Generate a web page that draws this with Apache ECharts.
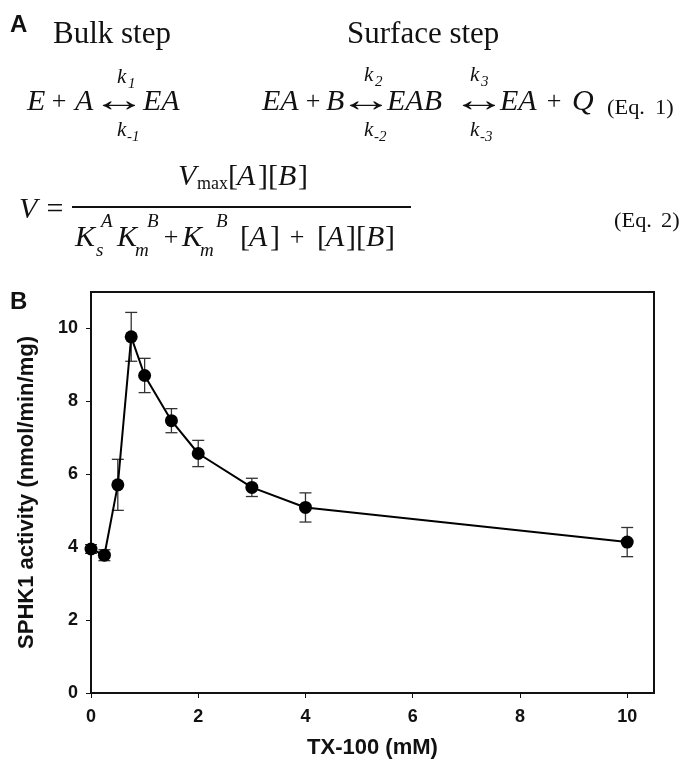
<!DOCTYPE html>
<html>
<head>
<meta charset="utf-8">
<script src="https://cdn.jsdelivr.net/npm/echarts@6/dist/echarts.min.js"></script>
<style>
  html, body { margin: 0; padding: 0; background: #fff; }
  #chart { width: 681px; height: 764px; }
</style>
</head>
<body>
<div id="chart"></div>
<script>
// TX-100 concentration (mM) and SPHK1 activity (nmol/min/mg) with error
const txConc   = [0, 0.25, 0.5, 0.75, 1, 1.5, 2, 3, 4, 10];
const activity = [3.95, 3.78, 5.71, 9.77, 8.71, 7.47, 6.57, 5.64, 5.09, 4.14];
const errs     = [0.12, 0.15, 0.70, 0.67, 0.47, 0.33, 0.36, 0.25, 0.40, 0.40];

const xTicks = [0, 2, 4, 6, 8, 10];
const yTicks = [0, 2, 4, 6, 8, 10];

const SERIF = '"Liberation Serif", "Times New Roman", serif';
const SANS = '"Liberation Sans", Arial, sans-serif';

// text piece placed by its baseline
function T(x, base, str, size, opt) {
  opt = opt || {};
  const cy = base - 0.3375 * size;
  return {
    type: 'text',
    x: x, y: cy,
    scaleX: opt.sx || 1,
    silent: true,
    style: {
      text: str,
      fontFamily: opt.family || SERIF,
      fontSize: size,
      fontStyle: opt.italic ? 'italic' : 'normal',
      fontWeight: opt.bold ? 'bold' : 'normal',
      fill: '#111',
      align: opt.align || 'left',
      verticalAlign: 'middle',
      textAlign: opt.align || 'left',
      textVerticalAlign: 'middle'
    }
  };
}
const I = { italic: true };
const C = { align: 'center' };
const ARROW = { align: 'center', sx: 1.6 };
const EQ = { sx: 1.12 };

const eqGraphics = [
  // panel letters
  T(10, 33, 'A', 24, { family: SANS, bold: true }),
  T(10, 310, 'B', 24, { family: SANS, bold: true }),
  // headings
  T(53, 45, 'Bulk step', 31),
  T(347, 45, 'Surface step', 31),

  // Eq. 1, bulk step
  T(27, 112, 'E', 30, I),
  T(59, 111, '+', 26, C),
  T(75, 112, 'A', 30, I),
  T(119, 114, '\u2194', 34, ARROW),
  T(143, 112, 'EA', 30, I),
  T(117, 85, 'k', 21, I),
  T(128, 89, '1', 15, I),
  T(117, 138, 'k', 21, I),
  T(127, 142, '-1', 15, I),

  // Eq. 1, surface step
  T(262, 112, 'EA', 30, I),
  T(313, 111, '+', 26, C),
  T(326, 112, 'B', 30, I),
  T(366, 114, '\u2194', 34, ARROW),
  T(387, 112, 'EAB', 30, I),
  T(479, 114, '\u2194', 34, ARROW),
  T(500, 112, 'EA', 30, I),
  T(554, 111, '+', 26, C),
  T(572, 112, 'Q', 30, I),
  T(364, 83, 'k', 21, I),
  T(375, 87, '2', 15, I),
  T(364, 138, 'k', 21, I),
  T(374, 142, '-2', 15, I),
  T(470, 83, 'k', 21, I),
  T(481, 87, '3', 15, I),
  T(470, 138, 'k', 21, I),
  T(480, 142, '-3', 15, I),
  T(607, 115, '(Eq.', 20, EQ),
  T(655, 115, '1)', 20, EQ),

  // Eq. 2
  T(19, 220, 'V', 30, I),
  T(55, 220, '=', 30, C),
  // numerator
  T(178, 187, 'V', 30, I),
  T(197, 190, 'max', 18),
  T(228, 187, '[', 30),
  T(237, 187, 'A', 30, I),
  T(258, 187, '][', 30),
  T(278, 187, 'B', 30, I),
  T(298, 187, ']', 30),
  // denominator
  T(75, 248, 'K', 30, I),
  T(96, 257, 's', 19, I),
  T(101, 228, 'A', 19, I),
  T(117, 248, 'K', 30, I),
  T(135, 257, 'm', 19, I),
  T(147, 228, 'B', 19, I),
  T(171, 247, '+', 26, C),
  T(182, 248, 'K', 30, I),
  T(200, 257, 'm', 19, I),
  T(216, 228, 'B', 19, I),
  T(240, 248, '[', 30),
  T(249, 248, 'A', 30, I),
  T(270, 248, ']', 30),
  T(297, 247, '+', 26, C),
  T(317, 248, '[', 30),
  T(326, 248, 'A', 30, I),
  T(346, 248, '][', 30),
  T(366, 248, 'B', 30, I),
  T(385, 248, ']', 30),
  T(614, 228, '(Eq.', 20, EQ),
  T(661, 228, '2)', 20, EQ),
  {
    type: 'line', silent: true,
    shape: { x1: 72, y1: 207, x2: 411, y2: 207 },
    style: { stroke: '#111', lineWidth: 2 }
  }
];

const pts = txConc.map((x, i) => [x, activity[i]]);
const errData = txConc.map((x, i) => [x, activity[i] - errs[i], activity[i] + errs[i]]);

const axisLabelStyle = { color: '#111', fontFamily: SANS, fontWeight: 'bold', fontSize: 18 };

const option = {
  backgroundColor: '#fff',
  animation: false,
  grid: {
    left: 91, top: 292, right: 27, bottom: 69,
    show: true, borderColor: '#111', borderWidth: 2, backgroundColor: 'transparent'
  },
  xAxis: {
    type: 'value', min: 0, max: 10.5,
    name: 'TX-100 (mM)', nameLocation: 'middle', nameGap: 44,
    nameTextStyle: { color: '#111', fontFamily: SANS, fontWeight: 'bold', fontSize: 22 },
    axisLine: { lineStyle: { color: '#111', width: 2 } },
    axisTick: { show: true, length: 5, lineStyle: { color: '#111', width: 1 }, customValues: xTicks },
    axisLabel: Object.assign({ margin: 15, customValues: xTicks }, axisLabelStyle),
    splitLine: { show: false }
  },
  yAxis: {
    type: 'value', min: 0, max: 11,
    name: 'SPHK1 activity (nmol/min/mg)', nameLocation: 'middle', nameGap: 53,
    nameTextStyle: { color: '#111', fontFamily: SANS, fontWeight: 'bold', fontSize: 22 },
    axisLine: { show: true, lineStyle: { color: '#111', width: 2 } },
    axisTick: { show: true, length: 5, lineStyle: { color: '#111', width: 1 }, customValues: yTicks },
    axisLabel: Object.assign({ margin: 13, customValues: yTicks }, axisLabelStyle),
    splitLine: { show: false }
  },
  graphic: { elements: eqGraphics },
  series: [
    {
      type: 'custom',
      z: 2,
      data: errData,
      renderItem: function (params, api) {
        const x = api.value(0);
        const lo = api.coord([x, api.value(1)]);
        const hi = api.coord([x, api.value(2)]);
        const hw = 6;
        const st = { stroke: '#333', lineWidth: 1.3 };
        return {
          type: 'group',
          children: [
            { type: 'line', shape: { x1: lo[0], y1: lo[1], x2: hi[0], y2: hi[1] }, style: st },
            { type: 'line', shape: { x1: lo[0] - hw, y1: lo[1], x2: lo[0] + hw, y2: lo[1] }, style: st },
            { type: 'line', shape: { x1: hi[0] - hw, y1: hi[1], x2: hi[0] + hw, y2: hi[1] }, style: st }
          ]
        };
      }
    },
    {
      type: 'line',
      z: 3,
      data: pts,
      symbol: 'circle',
      symbolSize: 13,
      itemStyle: { color: '#000' },
      lineStyle: { color: '#000', width: 2 }
    }
  ]
};

const chart = echarts.init(document.getElementById('chart'), null, { renderer: 'canvas' });
chart.setOption(option);
</script>
</body>
</html>
